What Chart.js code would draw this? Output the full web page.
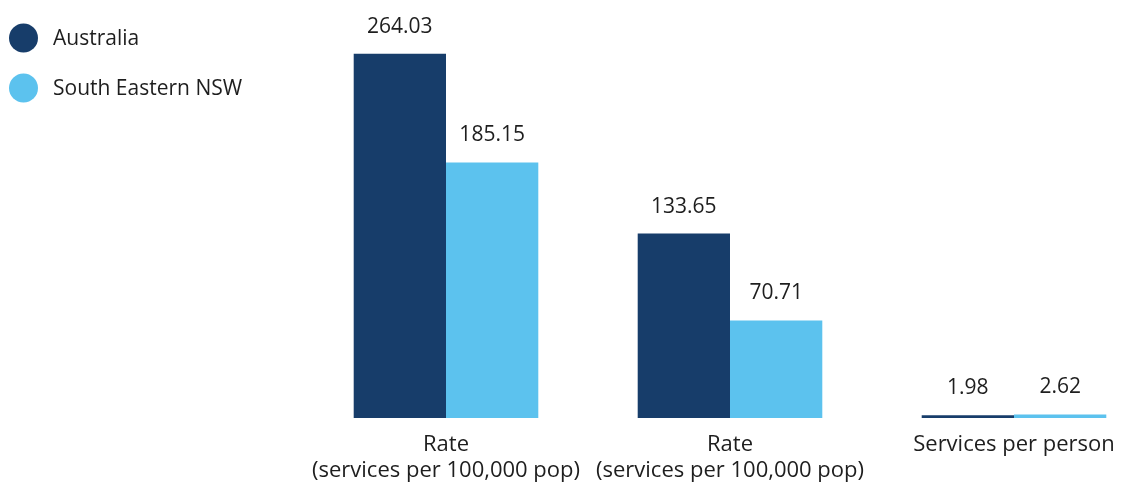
<!DOCTYPE html>
<html>
<head>
<meta charset="utf-8">
<script src="https://cdn.jsdelivr.net/npm/chart.js@4.4.1/dist/chart.umd.min.js"></script>
<style>
  html, body { margin: 0; padding: 0; background: #fff; overflow: hidden; }
  #ccontainer { width: 1156px; height: 482px; position: relative; }
</style>
</head>
<body>
<div id="ccontainer"><canvas id="myChart"></canvas></div>
<script>
// chart data
const categories = [
    ['Rate', '(services per 100,000 pop)'],
    ['Rate', '(services per 100,000 pop)'],
    'Services per person'
];
const seriesNames = ['Australia', 'South Eastern NSW'];
const australia = [264.03, 133.65, 1.98];
const southEasternNsw = [185.15, 70.71, 2.62];
const colours = ['#173d6a', '#5cc2ee'];

const fontName = "'Open Sans', sans-serif";
const textColour = '#1e1e1e';

// value printed above each bar
const barValues = {
    id: 'barValues',
    afterDatasetsDraw(chart) {
        const c = chart.ctx;
        c.save();
        c.font = '21px ' + fontName;
        c.fillStyle = textColour;
        c.textAlign = 'center';
        c.textBaseline = 'middle';
        chart.data.datasets.forEach((ds, i) => {
            chart.getDatasetMeta(i).data.forEach((bar, j) => {
                c.fillText(ds.data[j].toFixed(2), bar.x, bar.y - 27);
            });
        });
        c.restore();
    }
};

// round legend markers in the top left corner
const sideLegend = {
    id: 'sideLegend',
    afterDraw(chart) {
        const c = chart.ctx;
        c.save();
        c.font = '21px ' + fontName;
        c.textBaseline = 'middle';
        chart.data.datasets.forEach((ds, i) => {
            const y = 38 + i * 50;
            c.beginPath();
            c.arc(23.5, y, 14.5, 0, Math.PI * 2);
            c.fillStyle = ds.backgroundColor;
            c.fill();
            c.fillStyle = textColour;
            c.fillText(ds.label, 53, y + 1);
        });
        c.restore();
    }
};

var ctx = document.getElementById('myChart');
var myChart = new Chart(ctx, {
    type: 'bar',
    data: {
        labels: categories,
        datasets: [{
            label: seriesNames[0],
            data: australia,
            backgroundColor: colours[0]
        },
        {
            label: seriesNames[1],
            data: southEasternNsw,
            backgroundColor: colours[1]
        }]
    },
    options: {
        maintainAspectRatio: false,
        animation: false,
        categoryPercentage: 0.65,
        barPercentage: 1.0,
        layout: {
            padding: { left: 304, top: 4, right: 0, bottom: 0 }
        },
        plugins: {
            legend: { display: false },
            tooltip: { enabled: false }
        },
        scales: {
            y: {
                display: false,
                min: 0,
                max: 300
            },
            x: {
                grid: { display: false, drawTicks: false },
                border: { display: false },
                ticks: {
                    color: textColour,
                    font: { family: fontName, size: 22, lineHeight: '26px' },
                    padding: 14,
                    maxRotation: 0,
                    autoSkip: false
                },
                afterFit(scale) {
                    scale.height = 64;
                }
            }
        }
    },
    plugins: [barValues, sideLegend]
});
</script>
</body>
</html>
